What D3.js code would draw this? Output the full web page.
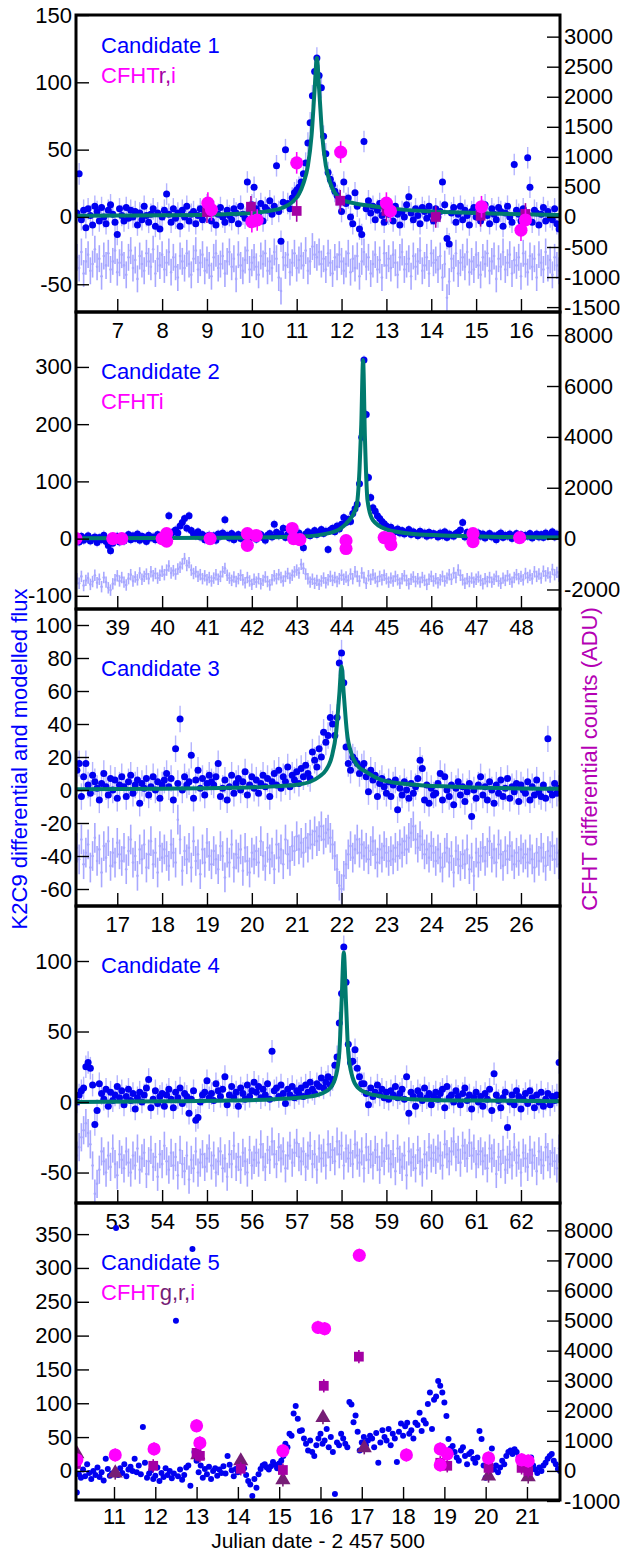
<!DOCTYPE html>
<html>
<head>
<meta charset="utf-8">
<script src="https://cdn.jsdelivr.net/npm/d3@7"></script>
<style>
  body { margin: 0; background: #fff; }
  text { font-family: "Liberation Sans", Arial, Helvetica, sans-serif; }
</style>
</head>
<body>
<div id="chart"></div>
<script>
// ---- K2 photometry, one value every 0.05 d starting at the given time ----
const k2Step = 0.05;

// candidate 1
const c1Start = 6.1;
const c1Flux = [
  3, 32, -2, 5, -8, 6, 1, -6, 8, 4, -3, 7, 0, -5, 5, 9, 2, -4, -13, 6,
  1, -3, 7, -1, 5, 0, 4, -6, 3, -2, 8, 1, -4, 2, 6, -7, 3, -9, 0, 5,
  17, 2, -4, 6, -1, 3, -7, 5, 0, 8, -3, 2, 4, -5, 1, 6, -2, 3, 9, 5,
  -3, 4, -6, 2, 7, 0, -4, 5, 1, -2, 6, 3, -5, 8, 2, -1, 26, 4, 9, 22,
  6, 3, 10, -3, 7, 5, 12, 2, 8, 38, 4, -18, 11, 50, 10, 6, 14, 18, 20, 22,
  26, 32, 40, 55, 70, 90, 108, 118, 105, 96, 60, 47, 33, 28, 24, 19, 16, 13, 4, 26,
  10, 14, 0, -5, 18, 8, -9, -13, 56, 6, 12, 3, 8, -2, 5, 10, 1, -4, 7, 2,
  5, -3, 8, 2, -6, 4, 0, 9, 15, 3, -2, 6, 1, -5, 7, 4, -1, 8, 2, -3,
  6, 0, 4, 26, 9, -16, -20, 3, 7, -4, 2, 8, -2, 5, 1, -6, 4, 7, 0, 3,
  -3, 5, 9, 1, -5, 6, 2, -2, 7, 4, -7, 3, 8, 0, -4, 39, 5, 2, -3, 6,
  1, 44, 22, -4, 5, 3, -6, 2, 7, -3, 4, 0, -2, 6, -5, -9
];
const c1Resid = [
  -30, -38, -26, -42, -33, -28, -40, -35, -24, -37, -31, -44, -29, -36, -27, -39, -33, -25, -41, -34,
  -28, -36, -43, -30, -25, -38, -32, -46, -29, -35, -40, -27, -33, -37, -24, -42, -31, -36, -28, -39,
  -34, -26, -41, -30, -37, -45, -29, -33, -38, -27, -35, -43, -31, -25, -39, -34, -28, -40, -32, -36,
  -44, -30, -27, -38, -35, -29, -42, -33, -26, -37, -31, -46, -28, -36, -40, -32, -25, -39, -34, -30,
  -37, -43, -29, -35, -27, -40, -33, -38, -26, -31, -45, -55, -30, -36, -28, -41, -34, -27, -38, -32,
  -29, -36, -25, -40, -33, -22, -28, -30, -26, -35, -31, -39, -27, -34, -42, -30, -37, -28, -33, -40,
  -35, -27, -41, -31, -38, -29, -44, -33, -26, -37, -30, -42, -35, -28, -39, -32, -45, -27, -36, -31,
  -38, -28, -34, -43, -30, -26, -39, -35, -31, -44, -29, -37, -33, -25, -40, -36, -30, -42, -27, -34,
  -32, -39, -29, -45, -35, -60, -48, -31, -38, -27, -42, -34, -30, -37, -26, -41, -33, -39, -28, -36,
  -43, -30, -35, -27, -40, -33, -29, -46, -31, -37, -26, -39, -34, -28, -42, -32, -36, -30, -44, -27,
  -35, -41, -29, -37, -31, -45, -28, -34, -39, -26, -38, -32, -43, -30, -36, -40
];
const c1ModelT = [6.08, 7, 8, 9, 9.5, 10, 10.4, 10.7, 10.9, 11.05, 11.15, 11.25, 11.33, 11.4, 11.45, 11.5, 11.57, 11.65, 11.75, 11.85, 12.0, 12.3, 12.7, 13.2, 14, 15, 16, 16.87];
const c1ModelV = [0.8, 1, 1.2, 1.6, 2.1, 3, 4.5, 7, 11, 17, 25, 38, 60, 95, 118, 95, 60, 38, 25, 18, 13, 10, 8, 6, 4, 3, 2, 1.5];
const c1iT = [9.02, 9.10, 10.00, 10.12, 11.00, 11.98, 13.00, 13.09, 15.12, 16.00, 16.10];
const c1iV = [230, 120, -80, -50, 900, 1080, 230, 100, 170, -220, -50];
const c1rT = [9.00, 9.98, 11.00, 11.97, 13.00, 14.10, 15.10, 16.10];
const c1rV = [80, 170, 100, 270, 100, 0, 20, 50];

// candidate 2
const c2Start = 38.1;
const c2Flux = [
  2, -6, 4, -3, 1, 5, -4, 0, 3, -7, 2, -2, 6, -5, -12, -21, -8, -3, 4, -6,
  1, -4, 3, 7, -2, 5, 0, 8, -3, 4, 2, -5, 6, 1, 3, -2, 7, 4, 0, 5,
  9, 40, 6, 12, 15, 10, 22, 28, 35, 18, 40, 14, 8, 5, 12, 3, 7, -2, 4, 6,
  2, 5, -3, 8, 4, 10, 33, 6, 1, 9, -2, 4, 7, 0, 5, -4, 3, 8, 2, 6,
  -1, 4, 7, 2, -3, 6, 9, 3, 25, 11, 5, 8, 18, 2, 7, 12, 4, 9, 6, 10,
  3, -16, 8, 12, 5, 10, 14, 7, 11, 16, 9, 13, -19, 15, 18, 12, 22, 17, 25, 37,
  28, 34, 30, 44, 52, 60, 96, 177, 312, 217, 107, 72, 54, 48, 40, 35, 30, 26, 22, 18,
  20, 15, 12, 17, 10, 14, 8, 11, 16, 7, 12, 9, 5, 13, 8, 10, 4, 11, 6, 9,
  7, 3, 10, 5, 12, 2, 8, 6, 4, 9, 11, 15, 28, 3, 11, 5, 8, 2, 6, 10,
  4, 8, 1, 6, 9, 3, 5, -2, 7, 10, 2, 6, 4, 8, 0, 5, 9, 3, 7, 2,
  6, 4, 9, 1, 5, 8, 3, 7, 2, 10, 4, 6, 12, 3, 8, 5
];
const c2Resid = [
  -70, -78, -66, -82, -73, -69, -80, -75, -64, -77, -71, -84, -68, -76, -86, -90, -79, -72, -65, -74,
  -68, -76, -81, -70, -63, -74, -67, -72, -60, -71, -66, -62, -70, -58, -65, -61, -69, -64, -57, -63,
  -55, -48, -60, -56, -62, -53, -50, -44, -35, -47, -42, -55, -61, -58, -66, -63, -70, -65, -72, -68,
  -74, -69, -63, -71, -66, -58, -52, -64, -69, -73, -67, -75, -70, -64, -72, -77, -68, -74, -80, -71,
  -76, -70, -79, -73, -67, -75, -81, -72, -65, -70, -63, -68, -74, -66, -61, -69, -64, -58, -55, -60,
  -45, -52, -62, -70, -76, -71, -78, -73, -80, -74, -69, -77, -72, -66, -73, -68, -75, -70, -64, -71,
  -67, -73, -62, -70, -58, -66, -74, -60, -68, -78, -65, -71, -63, -69, -75, -66, -72, -64, -70, -76,
  -69, -74, -66, -72, -78, -70, -65, -73, -79, -71, -67, -75, -70, -76, -68, -73, -80, -71, -66, -74,
  -70, -77, -72, -66, -74, -69, -63, -71, -60, -68, -55, -64, -72, -78, -70, -75, -69, -76, -71, -67,
  -73, -79, -70, -75, -68, -76, -71, -66, -74, -78, -69, -73, -65, -71, -76, -68, -63, -70, -66, -72,
  -61, -68, -64, -70, -58, -66, -62, -69, -57, -65, -60, -67, -54, -63, -59, -66
];
const c2ModelT = [38.08, 40, 41.5, 42.5, 43.1, 43.75, 44.1, 44.33, 44.4, 44.44, 44.48, 44.52, 44.58, 44.7, 45.0, 45.3, 45.6, 46.5, 47.5, 48.87];
const c2ModelV = [0.5, 1, 1.5, 2.5, 3.5, 10, 26, 55, 120, 200, 312, 180, 66, 32, 16, 11, 8, 5, 3, 2];
const c2iT = [38.08, 38.90, 39.10, 40.00, 40.10, 40.10, 41.07, 41.90, 41.90, 42.10, 42.90, 42.93, 43.07, 44.10, 44.10, 44.95, 45.08, 45.10, 46.93, 46.93, 47.97];
const c2iV = [0, 0, 0, 0, 200, -100, 0, 200, -270, 120, 400, 0, -40, -80, -390, 40, 0, -240, 200, -120, 40];

// candidate 3
const c3Start = 16.1;
const c3Flux = [
  12, 16, -4, 8, 16, 3, -2, 9, 5, 1, -6, 4, 10, 2, -3, 7, 0, 6, -5, 3,
  8, 2, -4, 5, 9, -2, 3, 6, -8, 4, 1, 7, -3, 2, 8, 0, 5, -5, 3, 6,
  10, 2, 7, -6, 25, 4, 43, 0, 8, 3, 5, 21, -5, 6, 12, 1, 7, -3, 4, 9,
  5, 3, 8, 16, -4, 1, 6, -6, 2, 9, -2, 4, 7, 0, 5, 11, -3, 3, 8, 1,
  6, -2, 4, 9, 2, 7, -4, 5, 10, 3, 12, 1, 8, 5, 14, 2, 9, 6, 11, 4,
  13, 8, 15, 10, 7, 23, 18, 14, 25, 20, 35, 29, 33, 44, 40, 33, 44, 77, 83, 65,
  26, 16, 12, 20, 18, 16, 10, 14, 16, 8, -1, 12, 6, 9, -4, 4, 7, 2, -2, 5,
  -4, 3, 6, -12, 1, -3, 5, 0, -5, 4, -2, 2, 7, 18, 13, -6, 3, -8, 1, -3,
  -2, 4, 10, -6, 8, 0, -4, 3, -9, 1, 5, -3, 2, -7, -1, 4, -16, 0, -5, 3,
  8, -3, 2, -6, 5, 0, -8, 3, -2, 6, -4, 1, 7, -5, 2, -1, 4, -7, 3, 0,
  -2, 5, -6, 2, -3, 6, -1, -4, 3, -5, 31, 0, -3, 4, -2, 1
];
const c3Resid = [
  -35, -42, -30, -45, -38, -33, -47, -40, -29, -43, -36, -50, -34, -41, -31, -46, -38, -44, -32, -39,
  -43, -35, -48, -37, -30, -44, -40, -52, -36, -42, -33, -47, -39, -31, -45, -38, -50, -34, -41, -36,
  -40, -46, -33, -38, -44, -18, -30, -49, -37, -42, -35, -47, -31, -43, -39, -51, -36, -44, -32, -40,
  -45, -37, -42, -48, -34, -40, -53, -38, -44, -33, -47, -39, -41, -36, -49, -35, -43, -50, -38, -42,
  -37, -44, -31, -40, -46, -35, -42, -38, -48, -33, -41, -36, -45, -30, -39, -43, -34, -37, -28, -36,
  -32, -38, -29, -35, -27, -33, -25, -31, -28, -22, -30, -26, -24, -29, -33, -40, -48, -58, -60, -52,
  -45, -39, -34, -41, -36, -30, -38, -33, -40, -35, -42, -37, -31, -39, -44, -36, -41, -34, -38, -43,
  -37, -42, -35, -40, -33, -38, -31, -36, -29, -26, -22, -30, -35, -28, -33, -39, -36, -41, -34, -38,
  -43, -36, -41, -47, -38, -35, -44, -40, -50, -37, -42, -46, -39, -45, -36, -48, -41, -52, -38, -44,
  -40, -35, -43, -38, -31, -41, -36, -44, -33, -39, -46, -37, -42, -34, -40, -45, -38, -43, -36, -41,
  -39, -44, -36, -42, -47, -38, -43, -35, -41, -46, -37, -40, -34, -42, -38, -45
];
const c3ModelT = [16.08, 18, 19.5, 20.5, 21.0, 21.3, 21.5, 21.65, 21.78, 21.88, 21.95, 22.0, 22.05, 22.12, 22.22, 22.35, 22.55, 22.9, 23.5, 24.5, 25.5, 26.87];
const c3ModelV = [0.5, 0.8, 1.3, 2.2, 3.2, 5, 8, 12, 20, 35, 58, 75, 58, 35, 22, 15, 11, 6, 3.5, 2, 1.2, 0.8];

// candidate 4
const c4Start = 52.1;
const c4Flux = [
  0, 5, 8, 10, 25, 28, 24, 12, -16, -6, 13, 6, 2, 9, -3, 7, 1, 5, 11, 3,
  8, -2, 4, 9, 1, 6, -5, 3, 7, 0, 5, 10, 16, -4, 2, 8, -1, 4, 6, -3,
  5, 9, 2, -4, 7, 3, 10, -1, 6, 4, -8, 2, 8, -13, -11, 0, 5, 7, 15, 3,
  6, 1, 13, 8, 4, 9, 18, -2, 5, 11, 3, 7, -3, 10, 6, 2, 12, 4, 8, 14,
  7, 11, 3, 9, 5, 13, 2, 36, 8, 10, 4, 12, 6, -1, 9, 5, 11, 3, 8, 6,
  10, 4, 12, 7, 14, 9, 6, 13, 11, 17, 10, 14, 18, 12, 16, 26, 32, 56, 77, 110,
  85, 41, 28, 29, 37, 24, 18, 13, 13, 6, -2, 10, 4, 7, 12, 5, 9, 3, 7, 2,
  8, 5, 11, 3, 6, 9, 2, 18, -8, 7, 4, -3, 8, 5, 1, 10, 3, 6, -2, 4,
  7, 2, 6, 9, -4, 11, 3, 5, 0, 8, 4, -2, 6, 10, 1, 5, -5, 3, 7, 0,
  4, -3, 6, 2, 9, -6, 20, 5, 1, -4, 3, 7, -18, 0, 5, -2, 8, 4, -5, 2,
  6, -1, 8, 3, -4, 5, 0, 7, -3, 2, 6, -2, 4, 1, 5, 28
];
const c4Resid = [
  -38, -32, -25, -20, -15, -22, -30, -45, -65, -58, -48, -35, -42, -50, -38, -46, -33, -44, -52, -37,
  -41, -47, -35, -43, -50, -38, -45, -33, -48, -40, -36, -51, -42, -34, -46, -39, -53, -37, -44, -31,
  -42, -48, -36, -45, -39, -52, -34, -44, -49, -38, -55, -41, -47, -35, -50, -43, -37, -46, -40, -33,
  -45, -38, -50, -42, -35, -47, -40, -53, -37, -44, -31, -46, -39, -48, -36, -42, -50, -34, -45, -41,
  -36, -43, -30, -39, -46, -34, -41, -28, -37, -44, -32, -40, -35, -47, -38, -31, -43, -36, -29, -39,
  -42, -35, -46, -38, -31, -44, -37, -48, -33, -40, -36, -45, -30, -39, -34, -42, -28, -37, -31, -45,
  -33, -40, -36, -44, -30, -38, -43, -35, -47, -32, -41, -37, -45, -34, -39, -48, -36, -42, -31, -40,
  -44, -37, -49, -33, -41, -46, -38, -52, -35, -43, -39, -47, -34, -42, -50, -37, -45, -32, -40, -36,
  -41, -33, -38, -45, -30, -37, -42, -35, -28, -39, -34, -43, -31, -36, -40, -29, -38, -33, -44, -37,
  -35, -42, -38, -47, -33, -40, -36, -51, -39, -44, -34, -48, -41, -37, -45, -32, -43, -38, -50, -36,
  -40, -46, -34, -43, -38, -49, -35, -41, -45, -32, -39, -44, -36, -42, -47, -33
];
const c4ModelT = [52.08, 54, 55.5, 56.5, 57.2, 57.55, 57.75, 57.87, 57.95, 58.0, 58.05, 58.1, 58.15, 58.24, 58.37, 58.57, 58.9, 59.3, 60, 61, 62.87];
const c4ModelV = [0, 0.5, 1, 2, 3.5, 6, 10, 18, 35, 70, 106, 70, 35, 18, 10, 6.4, 4, 2.5, 1.5, 1, 0.6];

// candidate 5
const c5Start = 10.1;
const c5Flux = [
  -32, -5, -10, 2, -8, 10, -3, -12, 0, -6, 5, -9, -2, -14, 18, 3, -7, -4, 27, 359,
  -6, 4, -3, 10, -8, 2, 6, 0, 18, -2, 8, -5, 65, 12, -10, -4, 1, -12, -7, 5,
  -15, -3, -9, 4, -6, 0, -11, -4, 222, -8, 2, -13, -6, 5, 8, -22, 328, 28, 15, -2,
  8, -10, 3, -5, 6, -12, 0, 4, -7, 2, -3, 7, -4, 22, 9, 1, -8, 3, -2, 6,
  12, 4, -6, -15, -20, -37, -12, -25, -5, 3, 8, 10, 5, 2, 7, 13, 9, 4, 11, 15,
  22, 40, 35, 55, 52, 85, 96, 77, 59, 60, 48, 40, 30, 45, 28, 22, 38, 48, 55, 40,
  45, 62, 35, 50, 28, -34, 42, 38, 55, 48, 40, 35, 102, 98, 72, 82, 58, 30, 42, 50,
  38, 45, 52, 48, 35, 56, 12, 42, 60, 50, 45, 62, 38, 55, 48, 13, 58, 70, 52, 66,
  71, 55, 60, 48, 71, 68, 86, 59, 75, 70, 99, 116, 62, 105, 110, 133, 126, 116, 101, 81,
  47, 33, 37, 28, 20, 15, 30, 35, 22, 10, 25, 28, 18, 12, 20, 59, 47, 8, -10, 5,
  12, 33, 2, 8, -2, 5, 15, 10, 22, 28, 30, 25, 32, 28, 20, 15, 8, 18, 12, 5,
  20, 8, 2, -3, 5, 0, 8, 12, 18, 22, 25, 15, 10, 3, 0
];
const c5iT = [10.10, 11.03, 11.97, 13.00, 13.08, 15.09, 15.94, 16.10, 16.94, 18.08, 18.90, 18.90, 19.07, 20.07, 20.87, 21.03];
const c5iV = [370, 530, 730, 1500, 930, 670, 4770, 4730, 7170, 530, 730, 200, 570, 430, 370, 330];
const c5rT = [10.08, 11.95, 13.00, 13.08, 14.07, 15.09, 16.08, 16.93, 18.90, 19.07, 20.07, 20.87, 21.03];
const c5rV = [230, 170, 600, 500, 70, 30, 2830, 3800, 270, 170, 100, 100, 0];
const c5gT = [10.10, 11.03, 13.03, 14.07, 15.09, 16.06, 17.06, 20.07, 21.03];
const c5gV = [570, -70, 530, 330, -300, 1770, 770, -170, -200];

// axis ticks
const xTicks = [
  [7, 8, 9, 10, 11, 12, 13, 14, 15, 16],
  [39, 40, 41, 42, 43, 44, 45, 46, 47, 48],
  [17, 18, 19, 20, 21, 22, 23, 24, 25, 26],
  [53, 54, 55, 56, 57, 58, 59, 60, 61, 62],
  [11, 12, 13, 14, 15, 16, 17, 18, 19, 20, 21]
];
const yTicks = [
  [150, 100, 50, 0, -50],
  [300, 200, 100, 0, -100],
  [100, 80, 60, 40, 20, 0, -20, -40, -60],
  [100, 50, 0, -50],
  [350, 300, 250, 200, 150, 100, 50, 0]
];
const rTicks = [
  [3000, 2500, 2000, 1500, 1000, 500, 0, -500, -1000, -1500],
  [8000, 6000, 4000, 2000, 0, -2000],
  null, null,
  [8000, 7000, 6000, 5000, 4000, 3000, 2000, 1000, 0, -1000]
];

// ---- layout ----
const width = 625, height = 1551;
const plotL = 76, plotR = 560, panelH = 297;
const tops = [15, 312, 609, 906, 1203];
const fontSize = 22;

const colK2 = "#0000f0", colK2Err = "#b4b4ff", colResid = "#a8a8ff", colModel = "#007a6e";
const colI = "#ff00ff", colR = "#a400a4", colG = "#761d76";

const panels = [
  { xDomain: [6.08, 16.87], yDomain: [-70.6, 150], adu: 22.4, start: c1Start, flux: c1Flux, err: 8,
    resid: c1Resid, residErr: 10, modelT: c1ModelT, modelV: c1ModelV,
    cfht: [{t: c1rT, v: c1rV, kind: "r"}, {t: c1iT, v: c1iV, kind: "i"}], cfhtErr: 180,
    name: "Candidate 1", filters: [["r,", colR], ["i", colI]] },
  { xDomain: [38.08, 48.87], yDomain: [-123, 396], adu: 22.5, start: c2Start, flux: c2Flux, err: 8,
    resid: c2Resid, residErr: 10, modelT: c2ModelT, modelV: c2ModelV,
    cfht: [{t: c2iT, v: c2iV, kind: "i"}], cfhtErr: 150,
    name: "Candidate 2", filters: [["i", colI]] },
  { xDomain: [16.08, 26.87], yDomain: [-70.3, 109.7], adu: null, start: c3Start, flux: c3Flux, err: 8,
    resid: c3Resid, residErr: 9, modelT: c3ModelT, modelV: c3ModelV,
    cfht: [], name: "Candidate 3", filters: null },
  { xDomain: [52.08, 62.87], yDomain: [-71.6, 139], adu: null, start: c4Start, flux: c4Flux, err: 8,
    resid: c4Resid, residErr: 10, modelT: c4ModelT, modelV: c4ModelV,
    cfht: [], name: "Candidate 4", filters: null },
  { xDomain: [10.08, 21.8], yDomain: [-43, 396], adu: 22.5, start: c5Start, flux: c5Flux, err: 0,
    resid: null, modelT: null,
    cfht: [{t: c5gT, v: c5gV, kind: "g"}, {t: c5rT, v: c5rV, kind: "r"}, {t: c5iT, v: c5iV, kind: "i"}], cfhtErr: 220,
    name: "Candidate 5", filters: [["g,r,", colG], ["i", colI]] }
];

const svg = d3.select("#chart").append("svg")
    .attr("width", width)
    .attr("height", height);
svg.append("rect").attr("width", width).attr("height", height).attr("fill", "#fff");

const fmt = d => String(d);

panels.forEach((p, k) => {
  const top = tops[k], bottom = top + panelH;
  const x = d3.scaleLinear().domain(p.xDomain).range([plotL, plotR]);
  const y = d3.scaleLinear().domain(p.yDomain).range([bottom, top]);
  const yR = p.adu ? d3.scaleLinear().domain(p.yDomain.map(v => v * p.adu)).range([bottom, top]) : null;

  svg.append("clipPath").attr("id", "clip" + k)
    .append("rect").attr("x", plotL).attr("y", top).attr("width", plotR - plotL).attr("height", panelH);
  const body = svg.append("g").attr("clip-path", "url(#clip" + k + ")");

  const pts = p.flux.map((v, i) => ({t: p.start + i * k2Step, v: v}));

  // residuals (light band of error bars)
  if (p.resid) {
    const res = p.resid.map((v, i) => ({t: p.start + i * k2Step, v: v}));
    body.append("g").selectAll("line").data(res).join("line")
      .attr("x1", d => x(d.t)).attr("x2", d => x(d.t))
      .attr("y1", d => y(d.v - p.residErr)).attr("y2", d => y(d.v + p.residErr))
      .attr("stroke", colResid).attr("stroke-width", 1.6);
    body.append("g").selectAll("circle").data(res).join("circle")
      .attr("cx", d => x(d.t)).attr("cy", d => y(d.v)).attr("r", 1.3)
      .attr("fill", colResid);
  }

  // K2 error bars and points
  if (p.err) {
    body.append("g").selectAll("line").data(pts).join("line")
      .attr("x1", d => x(d.t)).attr("x2", d => x(d.t))
      .attr("y1", d => y(d.v - p.err)).attr("y2", d => y(d.v + p.err))
      .attr("stroke", colK2Err).attr("stroke-width", 1.4);
  }
  body.append("g").selectAll("circle").data(pts).join("circle")
    .attr("cx", d => x(d.t)).attr("cy", d => y(d.v))
    .attr("r", k === 4 ? 3 : 3.5)
    .attr("fill", colK2);

  // model
  if (p.modelT) {
    body.append("path").datum(p.modelT.map((t, i) => ({t: t, v: p.modelV[i]})))
      .attr("fill", "none").attr("stroke", colModel).attr("stroke-width", 4)
      .attr("stroke-linejoin", "round")
      .attr("d", d3.line().x(d => x(d.t)).y(d => y(d.v)).curve(d3.curveMonotoneX));
  }

  // CFHT
  p.cfht.forEach(s => {
    const col = s.kind === "i" ? colI : (s.kind === "r" ? colR : colG);
    const data = s.t.map((t, i) => ({t: t, v: s.v[i]}));
    const g = body.append("g");
    g.selectAll("line").data(data).join("line")
      .attr("x1", d => x(d.t)).attr("x2", d => x(d.t))
      .attr("y1", d => yR(d.v - p.cfhtErr)).attr("y2", d => yR(d.v + p.cfhtErr))
      .attr("stroke", col).attr("stroke-width", 1.6);
    const sym = s.kind === "i" ? d3.symbolCircle : (s.kind === "r" ? d3.symbolSquare : d3.symbolTriangle);
    const size = s.kind === "i" ? 135 : (s.kind === "r" ? 95 : 100);
    g.selectAll("path").data(data).join("path")
      .attr("transform", d => "translate(" + x(d.t) + "," + yR(d.v) + ")")
      .attr("d", d3.symbol().type(sym).size(size))
      .attr("fill", col);
  });

  // axes
  const axL = svg.append("g").attr("transform", "translate(" + plotL + ",0)")
    .call(d3.axisLeft(y).tickValues(yTicks[k]).tickSize(-13).tickPadding(4).tickFormat(fmt));
  const axB = svg.append("g").attr("transform", "translate(0," + bottom + ")")
    .call(d3.axisBottom(x).tickValues(xTicks[k]).tickSize(-13).tickPadding(k === 4 ? 8 : 10).tickFormat(fmt));
  const axes = [axL, axB];
  if (rTicks[k]) {
    axes.push(svg.append("g").attr("transform", "translate(" + plotR + ",0)")
      .call(d3.axisRight(yR).tickValues(rTicks[k]).tickSize(-13).tickPadding(4).tickFormat(fmt)));
  }
  axes.forEach(a => {
    a.select(".domain").remove();
    a.selectAll(".tick line").attr("stroke", "#000").attr("stroke-width", 1.4);
    a.selectAll(".tick text").attr("font-size", fontSize).attr("fill", "#000")
      .attr("font-family", "Liberation Sans, Arial, sans-serif");
  });

  // frame
  svg.append("rect").attr("x", plotL).attr("y", top).attr("width", plotR - plotL).attr("height", panelH)
    .attr("fill", "none").attr("stroke", "#000").attr("stroke-width", 3);

  // legend
  const ly = top + (k === 0 ? 38 : 67);
  svg.append("text").attr("x", 101).attr("y", ly).attr("font-size", fontSize)
    .attr("fill", "#0000ff").text(p.name);
  if (p.filters) {
    const t = svg.append("text").attr("x", 101).attr("y", ly + 30).attr("font-size", fontSize);
    t.append("tspan").attr("fill", colI).text("CFHT");
    p.filters.forEach(f => t.append("tspan").attr("fill", f[1]).text(f[0]));
  }
});

// axis titles
svg.append("text")
  .attr("transform", "translate(27,759) rotate(-90)")
  .attr("text-anchor", "middle").attr("font-size", fontSize).attr("fill", "#0000ff")
  .text("K2C9 differential and modelled flux");
svg.append("text")
  .attr("transform", "translate(597,759) rotate(-90)")
  .attr("text-anchor", "middle").attr("font-size", fontSize).attr("fill", "#b400b4")
  .text("CFHT differential counts (ADU)");
svg.append("text")
  .attr("x", 318).attr("y", 1548)
  .attr("text-anchor", "middle").attr("font-size", 21).attr("fill", "#000")
  .text("Julian date - 2 457 500");
</script>
</body>
</html>
